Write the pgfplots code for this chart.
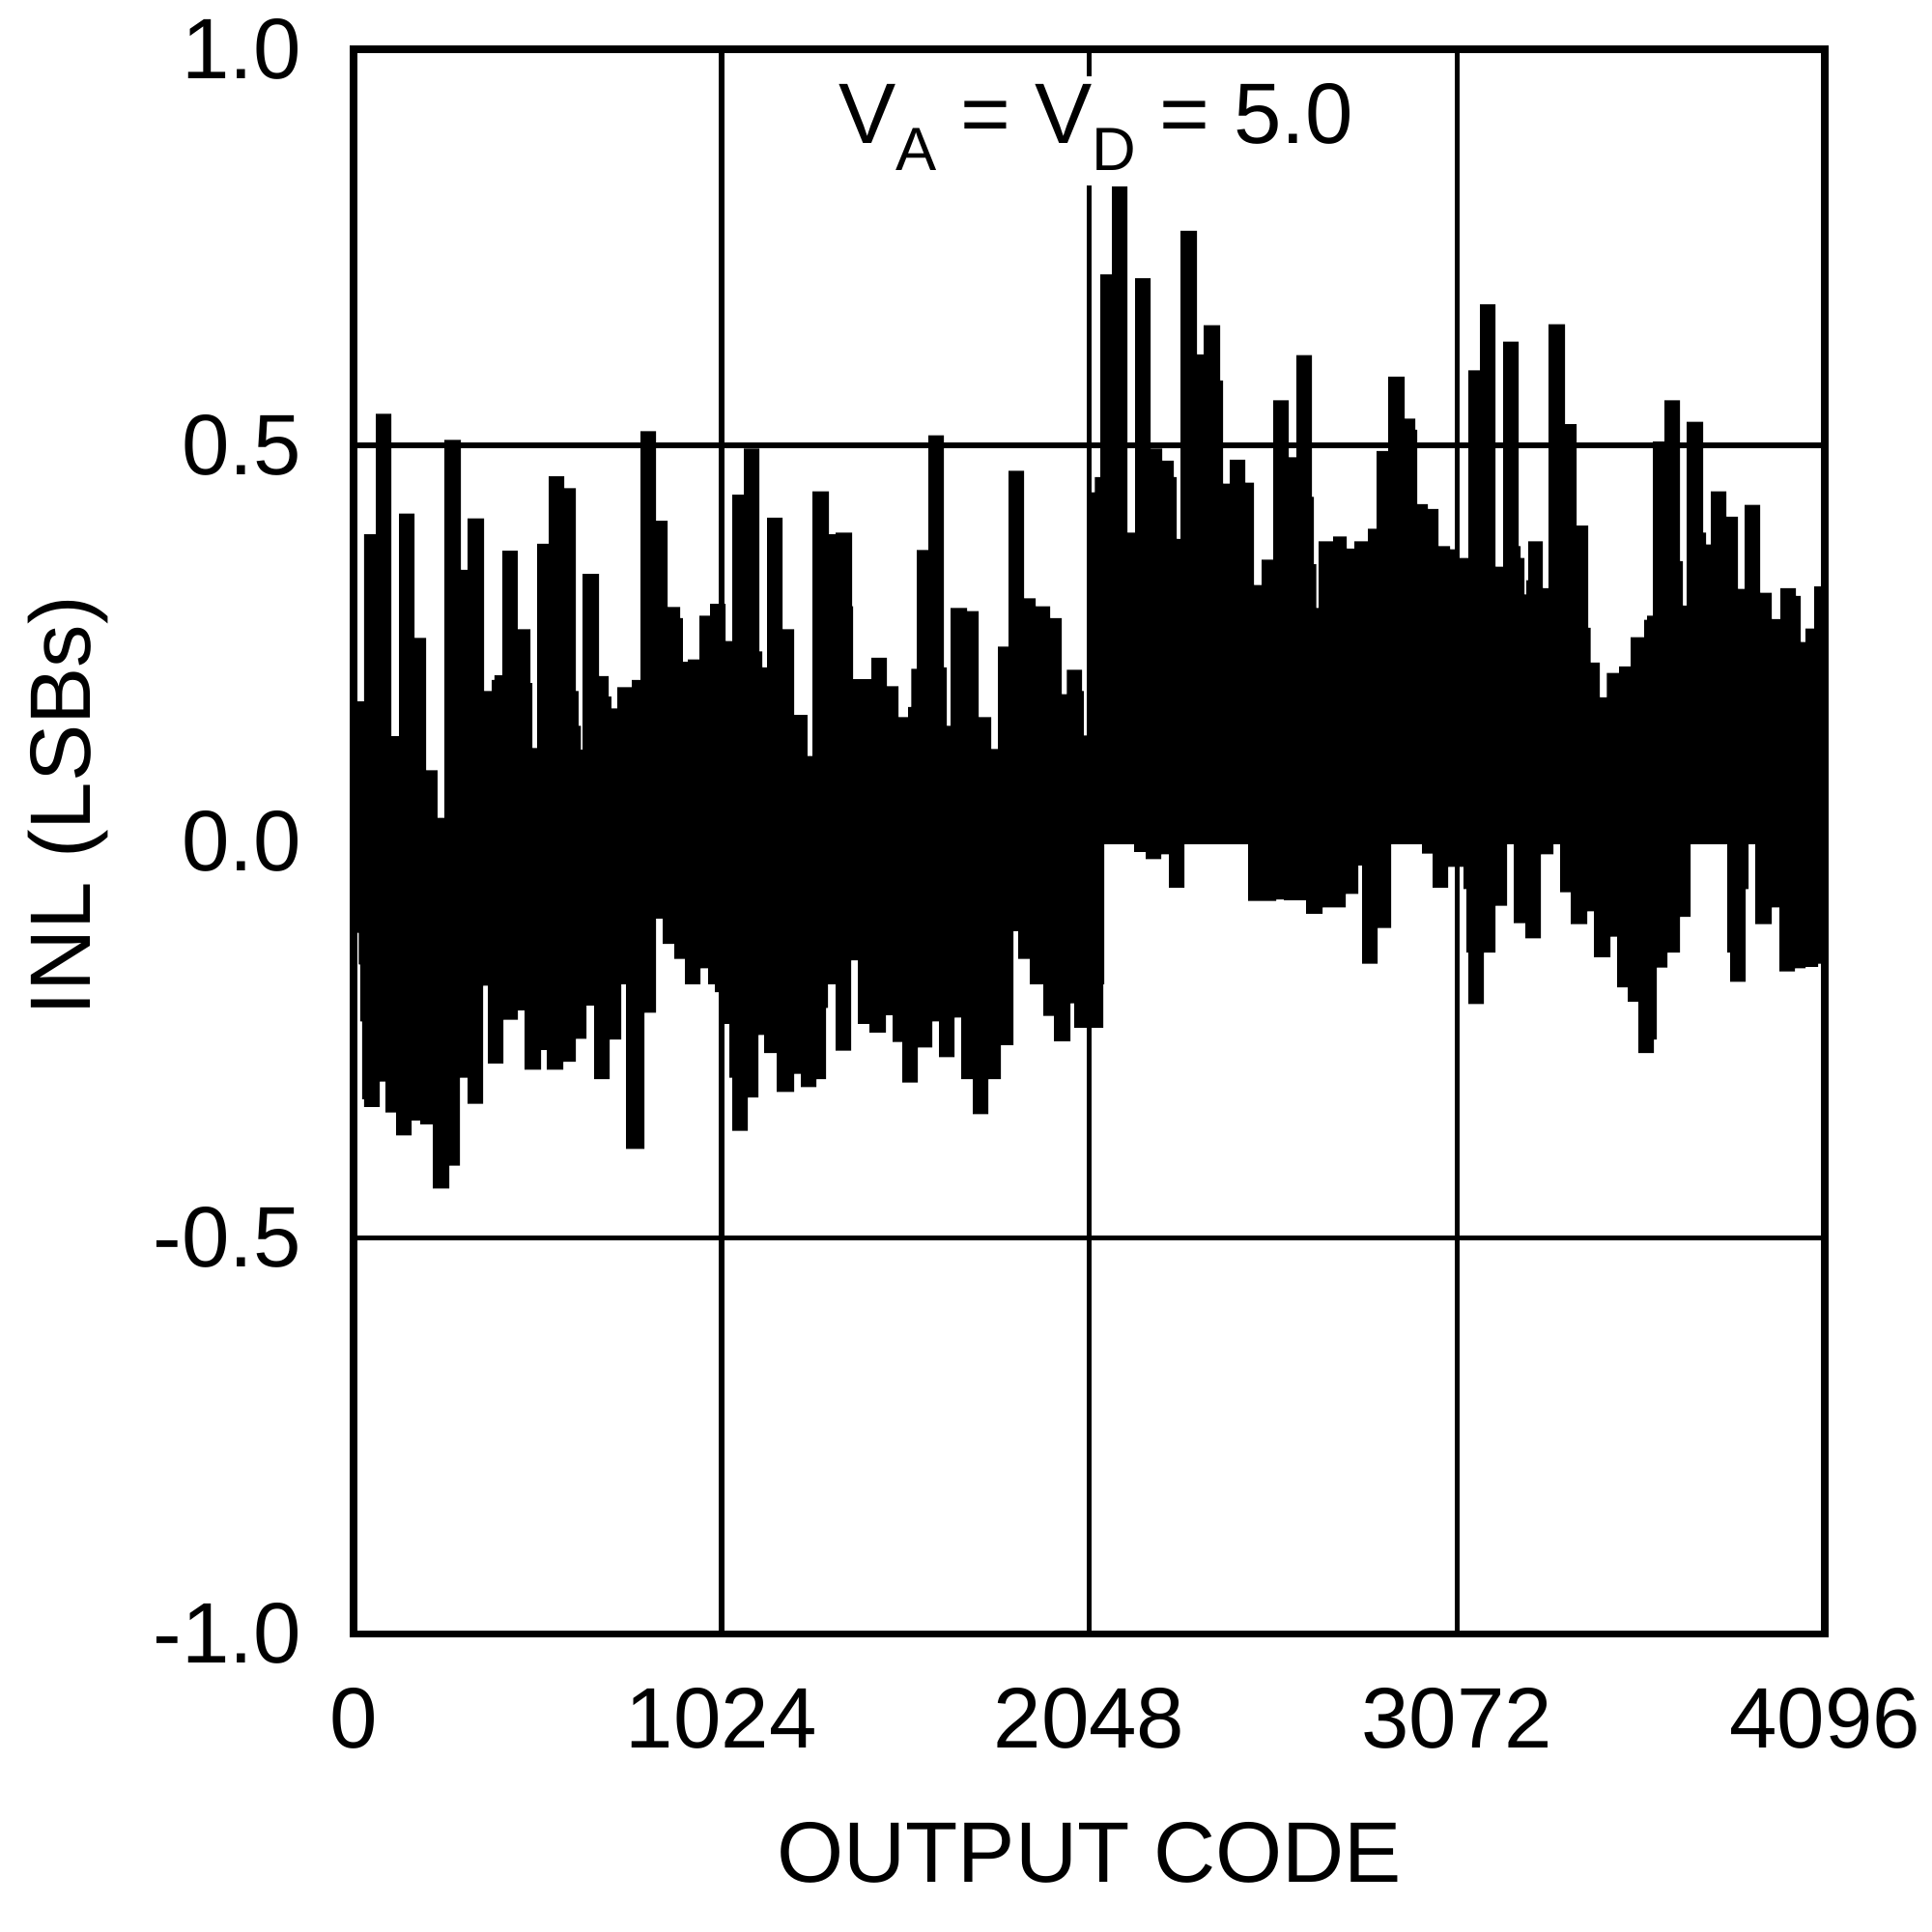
\documentclass[border=0pt]{standalone}
\usepackage{fontspec}
\setmainfont{Liberation Sans}
\usepackage{pgfplots}
\pgfplotsset{compat=1.18}
\newcommand{\fs}{\fontsize{17.7}{21}\selectfont}
\newcommand{\sub}[1]{\raisebox{-5.6pt}{\fontsize{12.6}{14}\selectfont #1}}
\begin{document}
\begin{tikzpicture}
\path[use as bounding box] (-2.563,-2.161) rectangle (11.438,11.84);
\begin{axis}[
  scale only axis, width=10.661cm, height=11.482cm,
  xmin=0, xmax=4096, ymin=-1, ymax=1,
  xtick={0,1024,2048,3072,4096}, xticklabels={0,1024,2048,3072,4096},
  ytick={-1,-0.5,0,0.5,1}, yticklabels={-1.0,-0.5,0.0,0.5,1.0},
  grid=major, grid style={black, line width=1.1pt},
  axis line style={line width=1.45pt},
  major tick length=0pt, tick style={draw=none},
  xticklabel style={font=\fs, anchor=center, inner sep=0pt, yshift=-0.616cm},
  yticklabel style={font=\fs, anchor=east, inner sep=0pt, xshift=-0.375cm},
  xlabel={OUTPUT CODE}, ylabel={INL (LSBs)},
  xlabel style={font=\fs, at={(axis description cs:0.5,-0.1384)}, anchor=center},
  ylabel style={font=\fs, at={(axis description cs:-0.1943,0.5225)}, anchor=center},
]
\fill[white] (axis cs:1990,0.828) rectangle (axis cs:2075,0.966);
\node[font=\fs, anchor=base, inner sep=0pt] at (axis cs:2067,0.881) {V\sub{A} = V\sub{D} = 5.0};

% closed outline: upper envelope left to right, then lower envelope right to left
\addplot[const plot mark left, fill=black, draw=none] coordinates {
(0,0.177)(28.7,0.388)(61.9,0.540)(104.9,0.133)(126.4,0.414)(169.4,0.257)(201.7,0.09)(233.1,0.03)(252.8,0.507)(298.5,0.343)(317.4,0.408)(363.1,0.19)(384.6,0.204)(391.8,0.21)(414.2,0.367)(456.3,0.268)(492.2,0.20)(497.6,0.118)(511.0,0.376)(543.3,0.461)(586.3,0.446)(618.6,0.19)(625.8,0.146)(632.9,0.116)(637.4,0.338)(683.1,0.209)(710.0,0.183)(717.2,0.168)(734.2,0.195)(774.6,0.204)(798.8,0.518)(841.8,0.405)(874.1,0.296)(909.0,0.282)(916.2,0.227)(930.6,0.23)(962.8,0.285)(992.4,0.30)(1035.5,0.253)(1054.3,0.438)(1086.6,0.496)(1129.6,0.24)(1137.7,0.22)(1151.1,0.409)(1194.1,0.268)(1226.4,0.16)(1263.2,0.108)(1277.5,0.442)(1323.2,0.388)(1342.0,0.39)(1387.8,0.297)(1390.5,0.205)(1441.6,0.232)(1484.6,0.196)(1516.9,0.157)(1543.8,0.17)(1552.7,0.218)(1568.0,0.368)(1600.2,0.513)(1643.3,0.22)(1651.3,0.146)(1662.1,0.295)(1707.8,0.291)(1740.1,0.157)(1775.1,0.117)(1793.9,0.246)(1823.5,0.468)(1866.5,0.307)(1898.8,0.297)(1939.1,0.282)(1971.4,0.186)(1985.7,0.217)(2027.9,0.19)(2032.4,0.134)(2048,0.441)(2063.7,0.46)(2079.0,0.716)(2111.3,0.827)(2154.3,0.39)(2175.8,0.711)(2218.8,0.496)(2251.1,0.481)(2283.4,0.46)(2291.4,0.382)(2302.2,0.771)(2347.9,0.615)(2366.8,0.652)(2412.5,0.582)(2420.5,0.452)(2439.4,0.482)(2482.4,0.453)(2506.6,0.324)(2528.1,0.356)(2560.4,0.557)(2603.4,0.485)(2625.0,0.614)(2668.0,0.435)(2673.4,0.35)(2680.5,0.295)(2686.8,0.379)(2727.1,0.385)(2764.8,0.37)(2786.3,0.379)(2823.9,0.395)(2848.1,0.493)(2880.4,0.587)(2926.1,0.534)(2955.7,0.52)(2961.1,0.426)(2990.7,0.42)(3020.3,0.373)(3052.5,0.369)(3068,0.358)(3103.6,0.595)(3135.9,0.678)(3178.9,0.347)(3200.4,0.631)(3243.5,0.373)(3248.9,0.358)(3259.6,0.312)(3265.0,0.33)(3270.4,0.379)(3310.7,0.32)(3326.9,0.653)(3372.6,0.527)(3404.9,0.399)(3437.1,0.27)(3444.3,0.226)(3469.4,0.182)(3489.1,0.213)(3523.2,0.221)(3555.5,0.258)(3593.1,0.28)(3601.2,0.285)(3617.3,0.505)(3649.6,0.557)(3692.6,0.354)(3700.7,0.298)(3711.5,0.53)(3757.1,0.39)(3765.2,0.375)(3778.7,0.442)(3821.7,0.41)(3854.0,0.319)(3872.8,0.425)(3915.9,0.314)(3948.1,0.281)(3972.3,0.32)(4015.4,0.31)(4028.8,0.252)(4042.3,0.269)(4066.4,0.322)(4096,0.322)
(4096,-0.154)(4077.2,-0.158)(4042.3,-0.16)(4012.7,-0.164)(3969.6,-0.083)(3948.1,-0.104)(3902.4,-0.003)(3883.6,-0.06)(3875.5,-0.177)(3832.5,-0.14)(3824.4,-0.003)(3722.2,-0.095)(3692.6,-0.14)(3657.7,-0.159)(3628.1,-0.25)(3620.0,-0.267)(3577.0,-0.202)(3547.4,-0.184)(3517.8,-0.12)(3499.0,-0.146)(3453.3,-0.088)(3434.4,-0.104)(3388.7,-0.064)(3359.1,-0.003)(3340.3,-0.016)(3305.3,-0.122)(3262.3,-0.103)(3230.0,-0.003)(3211.2,-0.081)(3178.9,-0.14)(3146.7,-0.205)(3103.6,-0.14)(3098.3,-0.06)(3090.2,-0.032)(3047.1,-0.058)(3004.1,-0.015)(2974.5,-0.003)(2888.5,-0.109)(2850.8,-0.154)(2807.8,-0.03)(2797.0,-0.066)(2762.1,-0.083)(2697.5,-0.091)(2651.8,-0.074)(2590.0,-0.073)(2568.5,-0.075)(2490.5,-0.003)(2313.0,-0.058)(2269.9,-0.016)(2248.4,-0.022)(2205.4,-0.013)(2173.1,-0.003)(2089.7,-0.18)(2087.0,-0.235)(2006.4,-0.204)(1995.6,-0.252)(1949.9,-0.22)(1920.3,-0.18)(1882.6,-0.148)(1850.4,-0.113)(1836.9,-0.257)(1801.9,-0.3)(1767.0,-0.344)(1724.0,-0.3)(1691.7,-0.222)(1672.9,-0.272)(1629.8,-0.227)(1611.0,-0.26)(1570.7,-0.304)(1527.6,-0.253)(1500.7,-0.219)(1481.9,-0.241)(1436.2,-0.23)(1403.9,-0.15)(1385.1,-0.264)(1342.0,-0.18)(1320.5,-0.21)(1315.2,-0.30)(1288.3,-0.31)(1245.2,-0.293)(1226.4,-0.316)(1178.0,-0.267)(1143.0,-0.244)(1126.9,-0.323)(1097.3,-0.365)(1054.3,-0.298)(1046.2,-0.23)(1032.8,-0.19)(1005.9,-0.18)(987.0,-0.16)(965.5,-0.18)(922.5,-0.148)(893.0,-0.129)(860.6,-0.097)(841.8,-0.216)(809.5,-0.388)(758.5,-0.18)(745.0,-0.25)(712.7,-0.300)(669.7,-0.207)(648.2,-0.249)(618.6,-0.278)(583.6,-0.288)(537.9,-0.263)(521.8,-0.288)(476.0,-0.213)(457.2,-0.225)(416.9,-0.28)(373.8,-0.182)(360.4,-0.331)(317.4,-0.298)(295.8,-0.409)(266.3,-0.438)(220.5,-0.357)(185.6,-0.352)(161.4,-0.371)(118.3,-0.342)(88.8,-0.303)(72.6,-0.335)(28.7,-0.325)(23.3,-0.227)(18.0,-0.155)(14.3,-0.115)(0,-0.115)
};
\end{axis}
\end{tikzpicture}
\end{document}
